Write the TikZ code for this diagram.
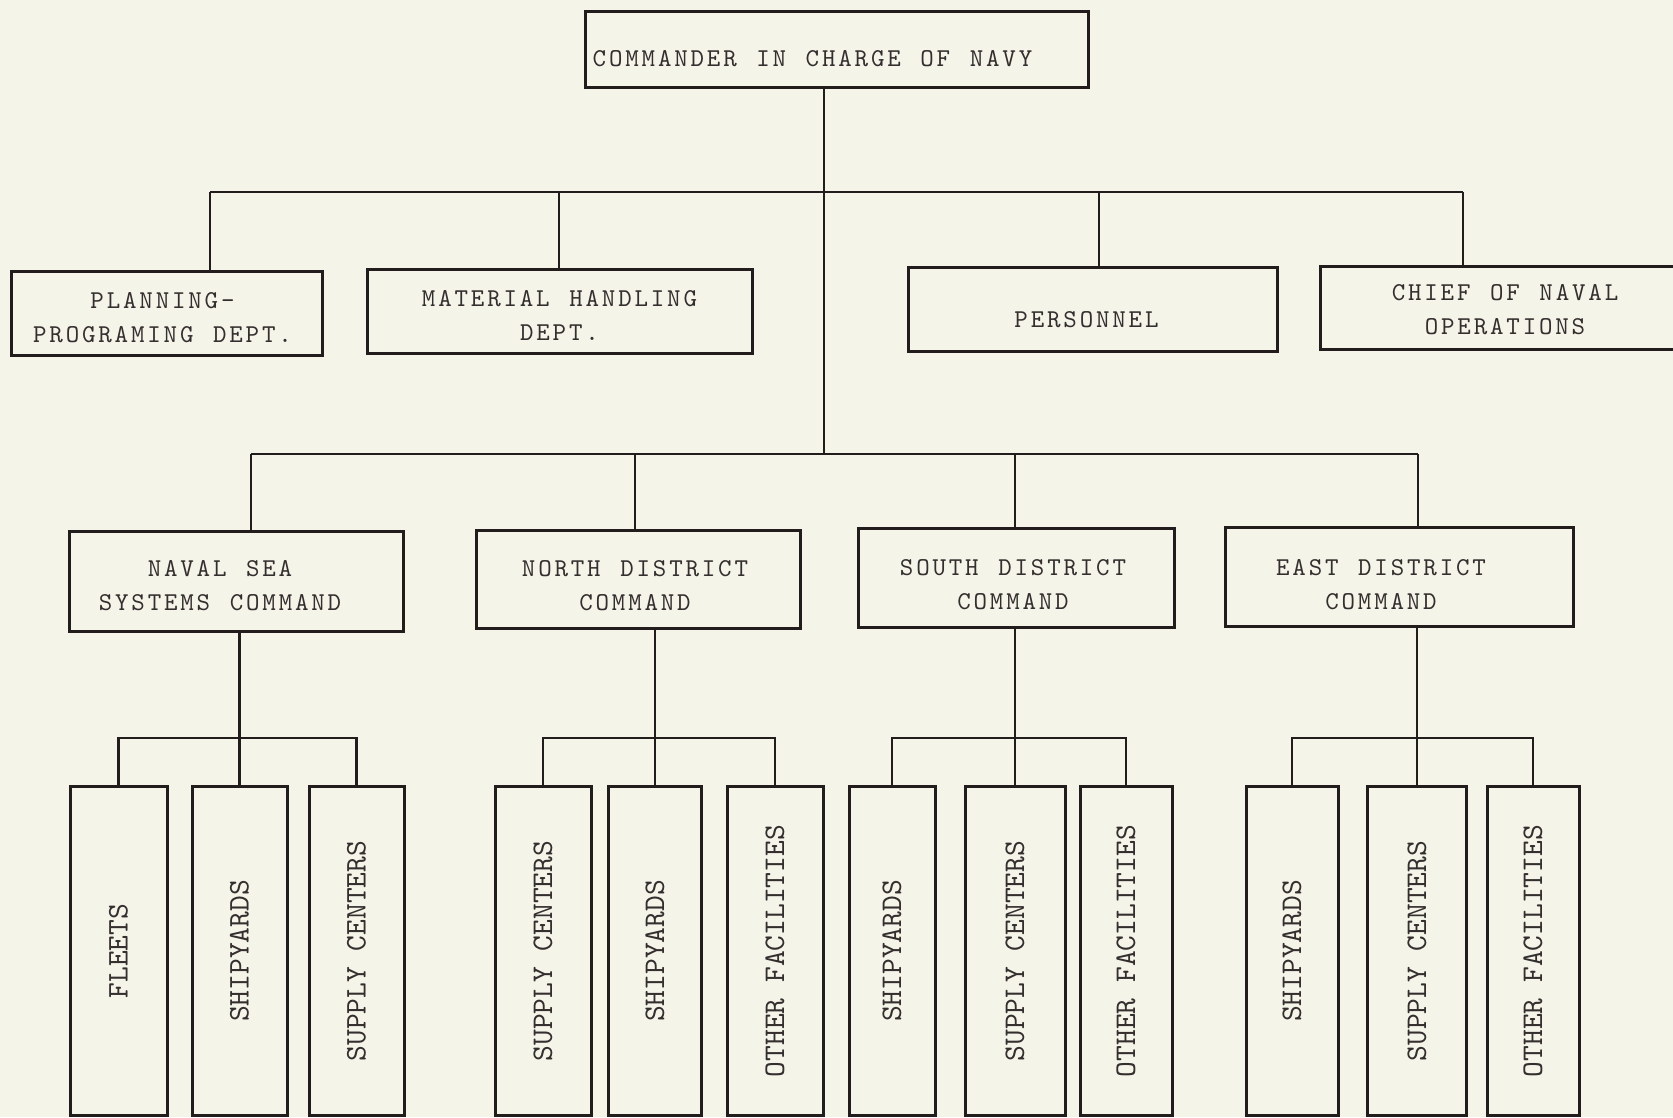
\documentclass[tikz,border=0pt]{standalone}
\usepackage{fontspec}
% typewriter faces: a spaced one for the offices, a plain one for the field units
\newfontfamily\typer[Extension=.otf, LetterSpace=11, WordSpace=1.2]{lmmono10-regular}
\newfontfamily\leafface[Extension=.otf]{lmmono10-regular}
\newcommand\lines[2][0pt]{\begin{tabular}{@{}c@{}}#2\end{tabular}\hspace*{#1}}
\definecolor{paper}{HTML}{F4F4E9}
\definecolor{ink}{HTML}{231C1C}
\begin{document}
\begin{tikzpicture}[x=1pt,y=-1pt,
  box/.style={draw=ink, line width=3pt, rectangle, inner sep=0pt, align=center,
    font=\typer\fontsize{25.7}{34}\selectfont, text=ink!92},
  lift/.style={text height=#1, text depth=0pt},
  leaf/.style={draw=ink, line width=3pt, rectangle, inner sep=0pt,
    font=\leafface\fontsize{30}{34}\selectfont, text=ink!92,
    minimum height=329pt, anchor=north},
  wire/.style={draw=ink, line width=2.7pt}]
% sheet
\fill[paper] (0,0) rectangle (1673,1117);
\useasboundingbox (0,0) rectangle (1673,1117);

% head of the chart
\node[box, lift=34.4pt, minimum width=503pt, minimum height=76pt] (cmd) at (836.5,49)
  {\lines[48pt]{COMMANDER IN CHARGE OF NAVY}};

% staff departments
\node[box, lift=23.4pt, minimum width=311pt, minimum height=84pt] (plan) at (166.5,313)
  {\lines[8pt]{PLANNING-\\PROGRAMING DEPT.}};
\node[box, lift=23.4pt, minimum width=385pt, minimum height=84pt] (mat) at (559.5,311)
  {\lines{MATERIAL HANDLING\\DEPT.}};
\node[box, lift=35.4pt, minimum width=369pt, minimum height=84pt] (pers) at (1092.5,309)
  {\lines[12pt]{PERSONNEL}};
\node[box, lift=19.4pt, minimum width=370pt, minimum height=83pt] (cno) at (1505,307.5)
  {\lines{CHIEF OF NAVAL\\OPERATIONS}};

% commands
\node[box, lift=23.4pt, minimum width=334pt, minimum height=100pt] (sea) at (236,581)
  {\lines[32pt]{NAVAL SEA\\SYSTEMS COMMAND}};
\node[box, lift=27.4pt, minimum width=324pt, minimum height=98pt] (north) at (638,579)
  {\lines[6pt]{NORTH DISTRICT\\COMMAND}};
\node[box, lift=29.4pt, minimum width=316pt, minimum height=99pt] (south) at (1016,577.5)
  {\lines[6pt]{SOUTH DISTRICT\\COMMAND}};
\node[box, lift=31.4pt, minimum width=348pt, minimum height=99pt] (east) at (1399,576.5)
  {\lines[36pt]{EAST DISTRICT\\COMMAND}};

% field activities
\node[leaf, minimum width=97pt] (s1) at (118.5,785) {\rotatebox{90}{FLEETS}};
\node[leaf, minimum width=95pt] (s2) at (239.5,785) {\rotatebox{90}{SHIPYARDS}};
\node[leaf, minimum width=95pt] (s3) at (356.5,785) {\rotatebox{90}{SUPPLY CENTERS}};

\node[leaf, minimum width=96pt] (n1) at (543,785) {\rotatebox{90}{SUPPLY CENTERS}};
\node[leaf, minimum width=93pt] (n2) at (655,785) {\rotatebox{90}{SHIPYARDS}};
\node[leaf, minimum width=96pt] (n3) at (775,785) {\rotatebox{90}{OTHER FACILITIES}};

\node[leaf, minimum width=86pt] (o1) at (892,785) {\rotatebox{90}{SHIPYARDS}};
\node[leaf, minimum width=100pt] (o2) at (1015,785) {\rotatebox{90}{SUPPLY CENTERS}};
\node[leaf, minimum width=92pt] (o3) at (1126,785) {\rotatebox{90}{OTHER FACILITIES}};

\node[leaf, minimum width=92pt] (e1) at (1292,785) {\rotatebox{90}{SHIPYARDS}};
\node[leaf, minimum width=99pt] (e2) at (1417,785) {\rotatebox{90}{SUPPLY CENTERS}};
\node[leaf, minimum width=92pt] (e3) at (1533,785) {\rotatebox{90}{OTHER FACILITIES}};

% spine and buses
\coordinate (spine) at (824,454);
\coordinate (u1) at (210,192);
\coordinate (u2) at (559,192);
\coordinate (u3) at (1099,192);
\coordinate (u4) at (1463,192);
\coordinate (l1) at (251,454);
\coordinate (l2) at (635,454);
\coordinate (l3) at (1015,454);
\coordinate (l4) at (1418,454);

\draw[wire] (spine |- cmd.south) -- (spine);
\draw[wire] (u1) -- (u4);
\draw[wire] (u1) -- (u1 |- plan.north);
\draw[wire] (u2) -- (u2 |- mat.north);
\draw[wire] (u3) -- (u3 |- pers.north);
\draw[wire] (u4) -- (u4 |- cno.north);

\draw[wire] (l1) -- (l4);
\draw[wire] (l1) -- (l1 |- sea.north);
\draw[wire] (l2) -- (l2 |- north.north);
\draw[wire] (l3) -- (l3 |- south.north);
\draw[wire] (l4) -- (l4 |- east.north);

% branches below each command
\draw[wire] (s2.north |- sea.south) -- (s2.north);
\draw[wire] (s1.north) -- ++(0,-47) -| (s3.north);
\draw[wire] (n2.north |- north.south) -- (n2.north);
\draw[wire] (n1.north) -- ++(0,-47) -| (n3.north);
\draw[wire] (o2.north |- south.south) -- (o2.north);
\draw[wire] (o1.north) -- ++(0,-47) -| (o3.north);
\draw[wire] (e2.north |- east.south) -- (e2.north);
\draw[wire] (e1.north) -- ++(0,-47) -| (e3.north);
\end{tikzpicture}
\end{document}
